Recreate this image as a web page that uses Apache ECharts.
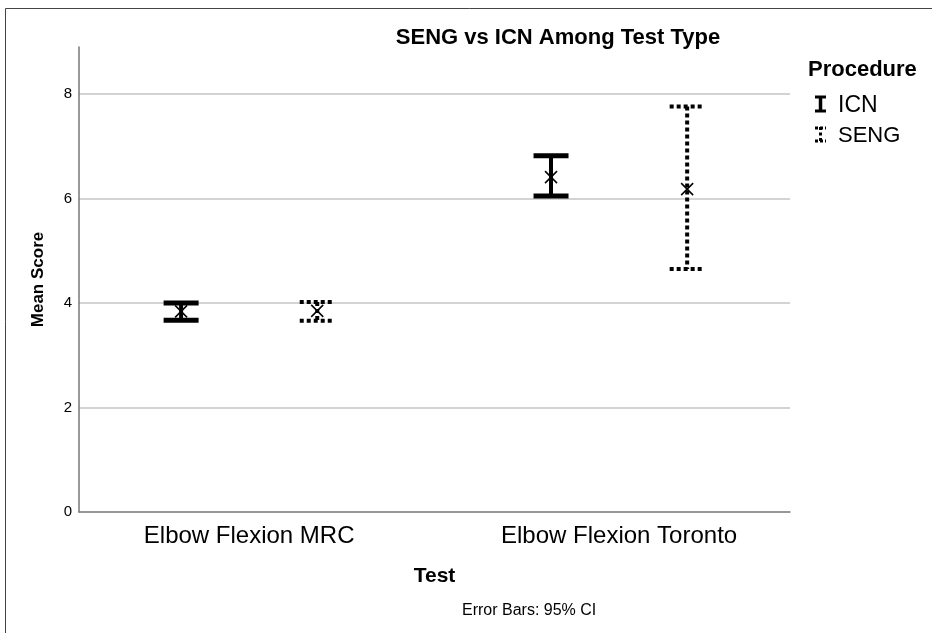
<!DOCTYPE html>
<html>
<head>
<meta charset="utf-8">
<script src="https://cdn.jsdelivr.net/npm/echarts@6/dist/echarts.min.js"></script>
<style>
html,body{margin:0;padding:0;background:#fff;}
#chart{width:932px;height:633px;}
</style>
</head>
<body>
<div id="chart"></div>
<script>
// ---- data ----
const categories = ['Elbow Flexion MRC', 'Elbow Flexion Toronto'];
const procedures = ['ICN', 'SENG'];
const icnMean  = [3.84, 6.41];
const icnLower = [3.67, 6.05];
const icnUpper = [4.00, 6.82];
const sengMean  = [3.85, 6.18];
const sengLower = [3.66, 4.65];
const sengUpper = [4.02, 7.76];
const yTicks = [0, 2, 4, 6, 8];

const FONT = '"Liberation Sans", Arial, Helvetica, sans-serif';

function rows(mean, lower, upper) {
  return categories.map((c, i) => [i, mean[i], lower[i], upper[i]]);
}

function makeRender(offset, dotted) {
  return function (params, api) {
    const xv = api.value(0) + offset;
    const cx = api.coord([xv, 0])[0];
    const yM = api.coord([xv, api.value(1)])[1];
    const yL = api.coord([xv, api.value(2)])[1];
    const yU = api.coord([xv, api.value(3)])[1];
    const hw = 17.5;
    const dash = dotted ? [4, 3] : null;
    const vW = 4;
    const cW = dotted ? 4 : 5;
    const m = 6;
    const st = (w) => ({ stroke: '#000', lineWidth: w, lineDash: dash, lineCap: 'butt', fill: null });
    return {
      type: 'group',
      children: [
        { type: 'line', shape: { x1: cx, y1: yU, x2: cx, y2: yL }, style: st(vW) },
        { type: 'line', shape: { x1: cx - hw, y1: yU, x2: cx + hw, y2: yU }, style: st(cW) },
        { type: 'line', shape: { x1: cx - hw, y1: yL, x2: cx + hw, y2: yL }, style: st(cW) },
        { type: 'line', shape: { x1: cx - m, y1: yM - m, x2: cx + m, y2: yM + m }, style: { stroke: '#000', lineWidth: 1.5 } },
        { type: 'line', shape: { x1: cx - m, y1: yM + m, x2: cx + m, y2: yM - m }, style: { stroke: '#000', lineWidth: 1.5 } }
      ]
    };
  };
}

const chart = echarts.init(document.getElementById('chart'), null, { renderer: 'canvas' });

const option = {
  backgroundColor: '#fff',
  animation: false,
  title: {
    text: 'SENG vs ICN Among Test Type',
    left: 553, top: 22, textAlign: 'center',
    textStyle: { fontFamily: FONT, fontWeight: 'bold', fontSize: 22, color: '#000' }
  },
  grid: { left: 79, right: 142, top: 47, bottom: 121, containLabel: false },
  xAxis: {
    type: 'value', min: -0.46, max: 1.462,
    name: 'Test', nameLocation: 'middle', nameGap: 54,
    nameTextStyle: { fontFamily: FONT, fontWeight: 'bold', fontSize: 21, color: '#000' },
    axisLine: { show: true, onZero: false, lineStyle: { color: '#777', width: 1.5 } },
    axisTick: { show: false },
    splitLine: { show: false },
    axisLabel: {
      customValues: [0, 1],
      formatter: (v) => categories[Math.round(v)],
      fontFamily: FONT, fontSize: 24, color: '#000', margin: 12
    }
  },
  yAxis: {
    type: 'value', min: 0, max: 8.9, interval: 2,
    name: 'Mean Score', nameLocation: 'middle', nameGap: 32, nameRotate: 90,
    nameTextStyle: { fontFamily: FONT, fontWeight: 'bold', fontSize: 17, color: '#000' },
    axisLine: { show: true, onZero: false, lineStyle: { color: '#777', width: 1.5 } },
    axisTick: { show: false },
    axisLabel: { customValues: yTicks, fontFamily: FONT, fontSize: 15, color: '#000', margin: 7 },
    splitLine: { show: true, showMinLine: false, showMaxLine: false, lineStyle: { color: '#c4c4c4', width: 1.5 } }
  },
  series: [
    { name: procedures[0], type: 'custom', renderItem: makeRender(-0.184, false),
      encode: { x: 0, y: [1, 2, 3] }, data: rows(icnMean, icnLower, icnUpper), z: 5 },
    { name: procedures[1], type: 'custom', renderItem: makeRender(0.184, true),
      encode: { x: 0, y: [1, 2, 3] }, data: rows(sengMean, sengLower, sengUpper), z: 5 }
  ],
  graphic: [
    { type: 'rect', shape: { x: 5.5, y: 8.5, width: 940, height: 640 }, style: { fill: null, stroke: '#444', lineWidth: 1 }, silent: true },
    { type: 'text', left: 808, top: 59, style: { text: 'Procedure', fontFamily: FONT, fontWeight: 'bold', fontSize: 22, fill: '#000' } },
    // ICN legend icon
    { type: 'line', shape: { x1: 820.5, y1: 96, x2: 820.5, y2: 112 }, style: { stroke: '#000', lineWidth: 3.5 } },
    { type: 'line', shape: { x1: 815, y1: 97, x2: 826, y2: 97 }, style: { stroke: '#000', lineWidth: 3 } },
    { type: 'line', shape: { x1: 815, y1: 111, x2: 826, y2: 111 }, style: { stroke: '#000', lineWidth: 3 } },
    { type: 'text', left: 838, top: 94, style: { text: procedures[0], fontFamily: FONT, fontSize: 23, fill: '#000' } },
    // SENG legend icon
    { type: 'line', shape: { x1: 820.5, y1: 127, x2: 820.5, y2: 142 }, style: { stroke: '#000', lineWidth: 3, lineDash: [3, 2.5] } },
    { type: 'line', shape: { x1: 815, y1: 128, x2: 826, y2: 128 }, style: { stroke: '#000', lineWidth: 3, lineDash: [3, 2] } },
    { type: 'line', shape: { x1: 815, y1: 141, x2: 826, y2: 141 }, style: { stroke: '#000', lineWidth: 3, lineDash: [3, 2] } },
    { type: 'text', left: 838, top: 125, style: { text: procedures[1], fontFamily: FONT, fontSize: 22, fill: '#000' } },
    { type: 'text', left: 462, top: 603, style: { text: 'Error Bars: 95% CI', fontFamily: FONT, fontSize: 16, fill: '#000' } }
  ]
};
chart.setOption(option);
</script>
</body>
</html>
